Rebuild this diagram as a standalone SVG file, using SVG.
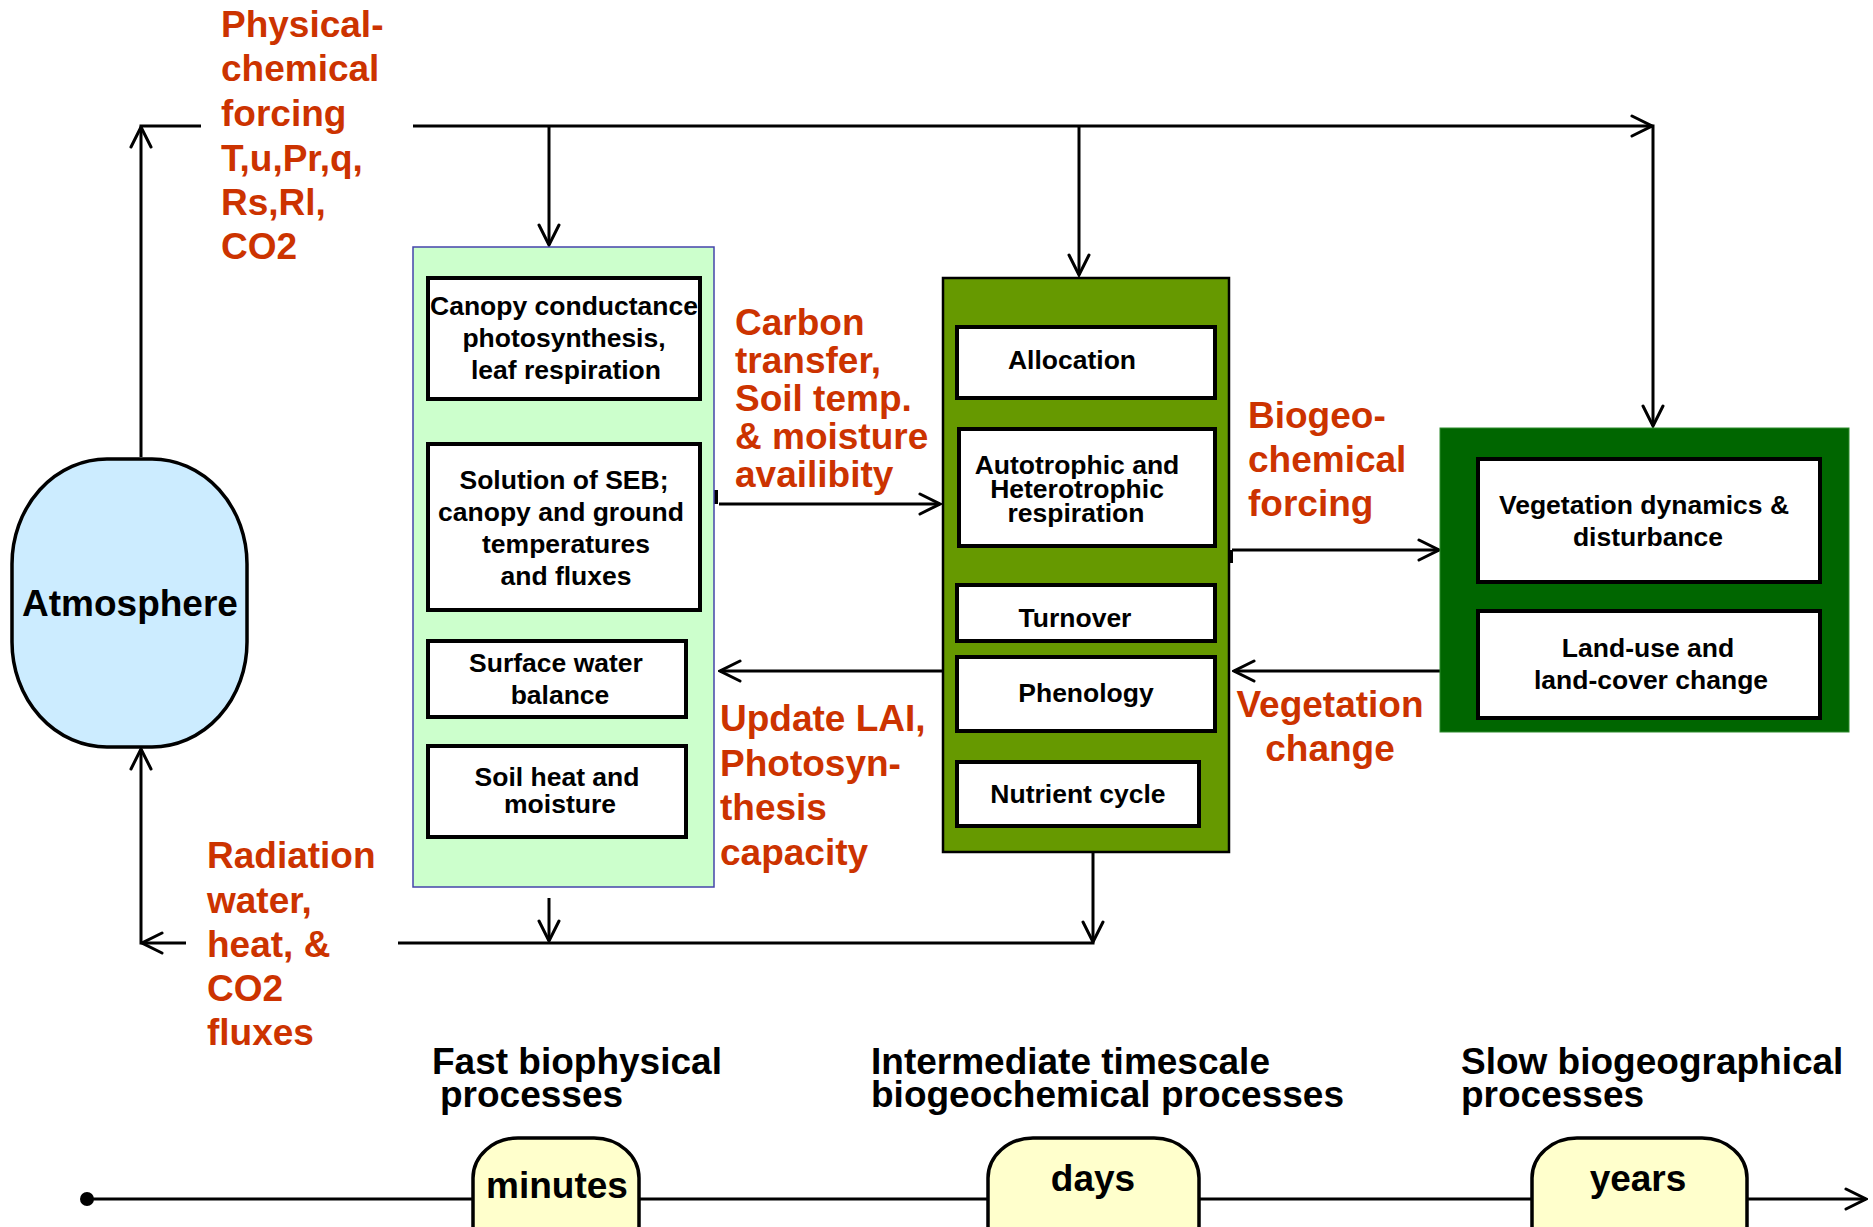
<svg xmlns="http://www.w3.org/2000/svg" width="1873" height="1227" viewBox="0 0 1873 1227">
  <style>
    .conn { fill: none; stroke: #000; stroke-width: 3; }
    .tick { fill: #000; }
    .box { fill: #fff; stroke: #000; stroke-width: 4; }
    .t { font-family: "Liberation Sans", Arial, sans-serif; font-weight: bold; font-size: 26.5px; fill: #000; text-anchor: middle; }
    .lbl { font-family: "Liberation Sans", Arial, sans-serif; font-weight: bold; font-size: 37px; fill: #CC3300; }
    .scale { font-family: "Liberation Sans", Arial, sans-serif; font-weight: bold; font-size: 37px; fill: #000; }
    .pill { fill: #FFFFCC; stroke: #000; stroke-width: 3.5; }
  </style>
  <defs>
    <marker id="arr" viewBox="0 0 24 24" refX="22" refY="12" markerWidth="24" markerHeight="24" markerUnits="userSpaceOnUse" orient="auto">
      <path d="M2,2 L22,12 L2,22" fill="none" stroke="#000" stroke-width="3" stroke-linecap="round"/>
    </marker>
  </defs>

  <rect width="1873" height="1227" fill="#fff"/>

  <!-- connectors -->
  <g id="connectors">
    <path class="conn" d="M141,457 V127" marker-end="url(#arr)"/>
    <path class="conn" d="M139.5,126 H201"/>
    <path class="conn" d="M413,126 H1652" marker-end="url(#arr)"/>
    <path class="conn" d="M549,126 V245" marker-end="url(#arr)"/>
    <path class="conn" d="M1079,126 V275" marker-end="url(#arr)"/>
    <path class="conn" d="M1653,124.5 V426" marker-end="url(#arr)"/>
    <path class="conn" d="M719,504 H940" marker-end="url(#arr)"/>
    <rect class="tick" x="714" y="490" width="4" height="14"/>
    <path class="conn" d="M1232,550 H1439" marker-end="url(#arr)"/>
    <rect class="tick" x="1229" y="550" width="4" height="13"/>
    <path class="conn" d="M1441,671 H1234" marker-end="url(#arr)"/>
    <rect class="tick" x="1440" y="657" width="4" height="14"/>
    <path class="conn" d="M942,671 H720" marker-end="url(#arr)"/>
    <path class="conn" d="M1093,852 V942" marker-end="url(#arr)"/>
    <path class="conn" d="M398,943 H1094.5"/>
    <path class="conn" d="M549,898 V941" marker-end="url(#arr)"/>
    <path class="conn" d="M186,943 H142" marker-end="url(#arr)"/>
    <path class="conn" d="M141,944.5 V749" marker-end="url(#arr)"/>
    <path class="conn" d="M87,1199 H1866" marker-end="url(#arr)"/>
    <circle cx="87" cy="1199" r="7" fill="#000"/>
  </g>

  <!-- atmosphere -->
  <g id="atmosphere">
    <rect x="12" y="459" width="235" height="288" rx="95" ry="105" fill="#CCECFF" stroke="#000" stroke-width="3.5"/>
    <text class="scale" x="130" y="616" text-anchor="middle">Atmosphere</text>
  </g>

  <!-- fast biophysical column -->
  <g id="fast-processes">
    <rect x="413" y="247" width="301" height="640" fill="#CCFFCC" stroke="#4444AA" stroke-width="1.5"/>
    <g id="canopy">
      <rect class="box" x="428" y="278" width="272" height="121"/>
      <text class="t" x="564" y="315">Canopy conductance</text>
      <text class="t" x="564" y="347">photosynthesis,</text>
      <text class="t" x="566" y="379">leaf respiration</text>
    </g>
    <g id="seb">
      <rect class="box" x="428" y="444" width="272" height="166"/>
      <text class="t" x="564" y="489">Solution of SEB;</text>
      <text class="t" x="561" y="521">canopy and ground</text>
      <text class="t" x="566" y="553">temperatures</text>
      <text class="t" x="566" y="585">and fluxes</text>
    </g>
    <g id="surface-water">
      <rect class="box" x="428" y="641" width="258" height="76"/>
      <text class="t" x="556" y="672">Surface water</text>
      <text class="t" x="560" y="704">balance</text>
    </g>
    <g id="soil">
      <rect class="box" x="428" y="746" width="258" height="91"/>
      <text class="t" x="557" y="786">Soil heat and</text>
      <text class="t" x="560" y="813">moisture</text>
    </g>
  </g>

  <!-- intermediate biogeochemical column -->
  <g id="intermediate-processes">
    <rect x="943" y="278" width="286" height="574" fill="#669900" stroke="#000" stroke-width="2.5"/>
    <g id="allocation">
      <rect class="box" x="957" y="327" width="258" height="71"/>
      <text class="t" x="1072" y="369">Allocation</text>
    </g>
    <g id="respiration">
      <rect class="box" x="959" y="429" width="256" height="117"/>
      <text class="t" x="1077" y="474">Autotrophic and</text>
      <text class="t" x="1077" y="498">Heterotrophic</text>
      <text class="t" x="1076" y="522">respiration</text>
    </g>
    <g id="turnover">
      <rect class="box" x="957" y="585" width="258" height="56"/>
      <text class="t" x="1075" y="627">Turnover</text>
    </g>
    <g id="phenology">
      <rect class="box" x="957" y="657" width="258" height="74"/>
      <text class="t" x="1086" y="702">Phenology</text>
    </g>
    <g id="nutrient">
      <rect class="box" x="957" y="762" width="242" height="64"/>
      <text class="t" x="1078" y="803">Nutrient cycle</text>
    </g>
  </g>

  <!-- slow biogeographical column -->
  <g id="slow-processes">
    <rect x="1440" y="428" width="409" height="304" fill="#006600" stroke="#2E8B2E" stroke-width="1"/>
    <g id="vegetation-dynamics">
      <rect class="box" x="1478" y="459" width="342" height="123"/>
      <text class="t" x="1644" y="514">Vegetation dynamics &amp;</text>
      <text class="t" x="1648" y="546">disturbance</text>
    </g>
    <g id="land-use">
      <rect class="box" x="1478" y="611" width="342" height="107"/>
      <text class="t" x="1648" y="657">Land-use and</text>
      <text class="t" x="1651" y="689">land-cover change</text>
    </g>
  </g>

  <!-- flux labels -->
  <g id="labels">
    <text class="lbl" x="221" y="37">Physical-</text>
    <text class="lbl" x="221" y="81">chemical</text>
    <text class="lbl" x="221" y="126">forcing</text>
    <text class="lbl" x="221" y="171">T,u,Pr,q,</text>
    <text class="lbl" x="221" y="215">Rs,Rl,</text>
    <text class="lbl" x="221" y="259">CO2</text>

    <text class="lbl" x="735" y="335">Carbon</text>
    <text class="lbl" x="735" y="373">transfer,</text>
    <text class="lbl" x="735" y="411">Soil temp.</text>
    <text class="lbl" x="735" y="449">&amp; moisture</text>
    <text class="lbl" x="735" y="487">availibity</text>

    <text class="lbl" x="1248" y="428">Biogeo-</text>
    <text class="lbl" x="1248" y="472">chemical</text>
    <text class="lbl" x="1248" y="516">forcing</text>

    <text class="lbl" x="1330" y="717" text-anchor="middle">Vegetation</text>
    <text class="lbl" x="1330" y="761" text-anchor="middle">change</text>

    <text class="lbl" x="720" y="731">Update LAI,</text>
    <text class="lbl" x="720" y="776">Photosyn-</text>
    <text class="lbl" x="720" y="820">thesis</text>
    <text class="lbl" x="720" y="865">capacity</text>

    <text class="lbl" x="207" y="868">Radiation</text>
    <text class="lbl" x="207" y="913">water,</text>
    <text class="lbl" x="207" y="957">heat, &amp;</text>
    <text class="lbl" x="207" y="1001">CO2</text>
    <text class="lbl" x="207" y="1045">fluxes</text>
  </g>

  <!-- timescale axis -->
  <g id="timescale">
    <text class="scale" x="432" y="1074">Fast biophysical</text>
    <text class="scale" x="440" y="1107">processes</text>
    <text class="scale" x="871" y="1074">Intermediate timescale</text>
    <text class="scale" x="871" y="1107">biogeochemical processes</text>
    <text class="scale" x="1461" y="1074">Slow biogeographical</text>
    <text class="scale" x="1461" y="1107">processes</text>
    <g id="minutes">
      <rect class="pill" x="473" y="1138" width="166" height="140" rx="45" ry="40"/>
      <text class="scale" x="557" y="1198" text-anchor="middle">minutes</text>
    </g>
    <g id="days">
      <rect class="pill" x="988" y="1138" width="211" height="140" rx="45" ry="40"/>
      <text class="scale" x="1093" y="1191" text-anchor="middle">days</text>
    </g>
    <g id="years">
      <rect class="pill" x="1532" y="1138" width="215" height="140" rx="45" ry="40"/>
      <text class="scale" x="1638" y="1191" text-anchor="middle">years</text>
    </g>
  </g>
</svg>
